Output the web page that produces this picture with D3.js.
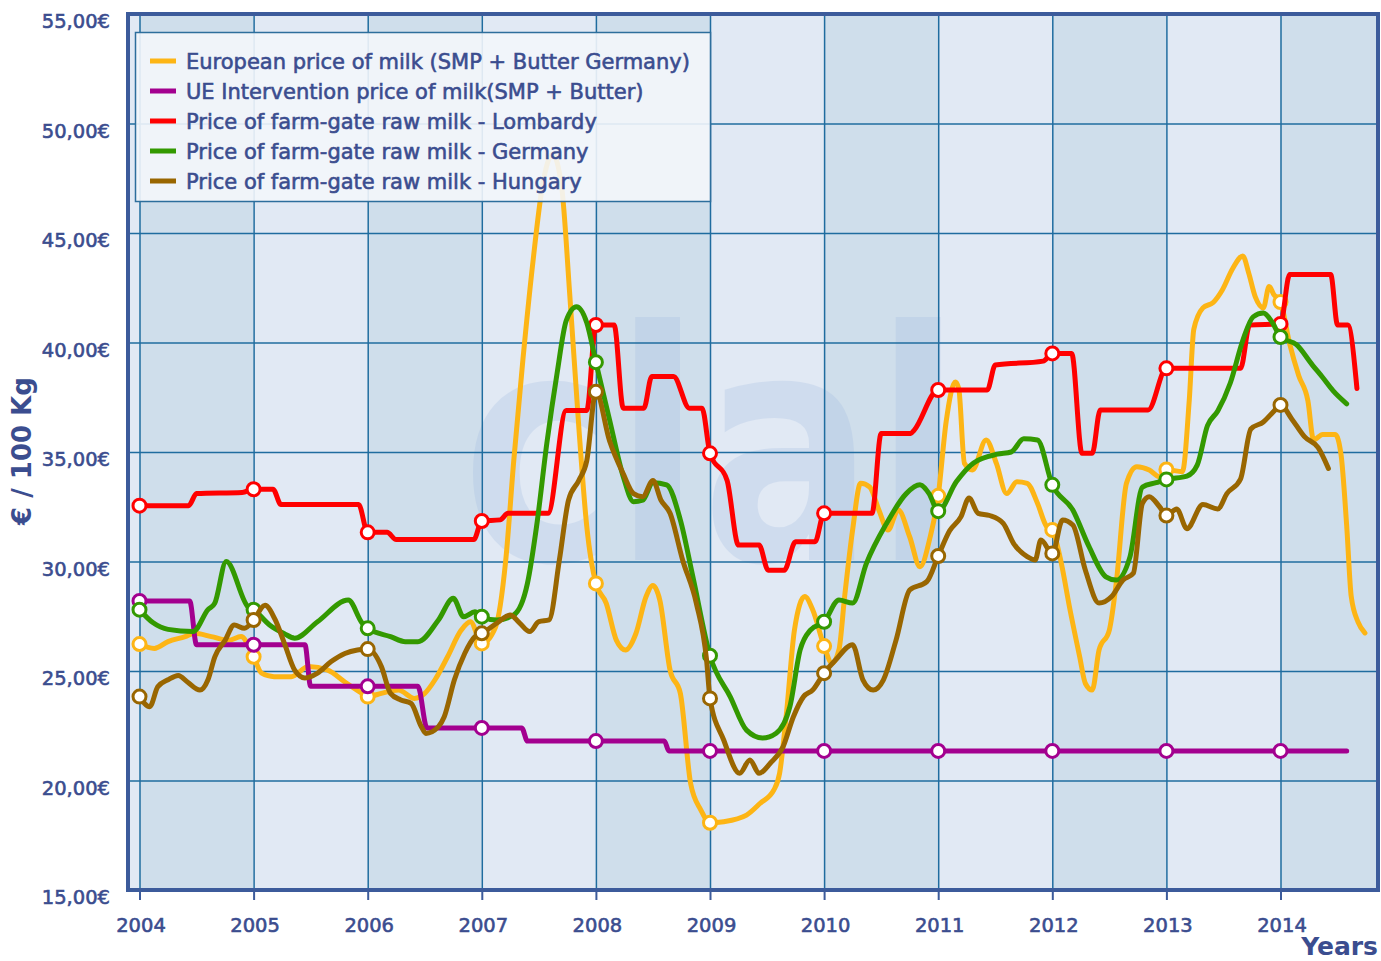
<!DOCTYPE html>
<html>
<head>
<meta charset="utf-8">
<script src="https://cdn.jsdelivr.net/npm/d3@7"></script>
<style>
  body { margin: 0; background: #fff; }
  svg { display: block; font-family: "DejaVu Sans", Verdana, sans-serif; }
  .grid line { stroke: #1f6c9f; stroke-width: 1.5; }
  .grid .domain { display: none; }
</style>
</head>
<body>
<svg id="chart" width="1381" height="961"></svg>
<script>
// ---- data ----
const years = d3.range(2004, 2015);
const yTicks = d3.range(15, 56, 5);

const seriesNames = [
    'European price of milk (SMP + Butter Germany)',
    'UE Intervention price of milk(SMP + Butter)',
    'Price of farm-gate raw milk - Lombardy',
    'Price of farm-gate raw milk - Germany',
    'Price of farm-gate raw milk - Hungary'
];
const seriesColors = ['#fdb515', '#a3008f', '#ff0000', '#339900', '#996600'];

// [year, €/100kg]
const europeanPrice = [
    [2004.0, 26.23], [2004.13, 26.03], [2004.25, 26.34], [2004.4, 26.57], [2004.48, 26.72], [2004.63, 26.57],
    [2004.78, 26.4], [2004.89, 26.57], [2005.0, 25.65], [2005.07, 24.9], [2005.18, 24.74], [2005.33, 24.74],
    [2005.48, 25.2], [2005.65, 25.04], [2005.8, 24.5], [2005.95, 23.98], [2006.0, 23.83], [2006.12, 23.98],
    [2006.27, 24.13], [2006.41, 23.75], [2006.5, 23.98], [2006.59, 24.6], [2006.7, 25.65], [2006.82, 26.87],
    [2006.9, 27.25], [2007.0, 26.26], [2007.12, 27.0], [2007.21, 30.07], [2007.28, 34.6], [2007.36, 39.2],
    [2007.45, 43.77], [2007.53, 47.1], [2007.62, 48.6], [2007.7, 47.1], [2007.77, 42.25], [2007.85, 36.15],
    [2007.92, 31.6], [2008.0, 29.0], [2008.09, 28.1], [2008.18, 26.4], [2008.26, 25.96], [2008.35, 26.7],
    [2008.44, 28.4], [2008.5, 28.9], [2008.56, 28.24], [2008.65, 25.04], [2008.74, 23.98], [2008.83, 19.87],
    [2008.92, 18.65], [2009.0, 18.07], [2009.12, 18.12], [2009.32, 18.42], [2009.44, 18.96], [2009.56, 19.57],
    [2009.61, 20.33], [2009.67, 23.06], [2009.74, 26.87], [2009.83, 28.4], [2009.9, 27.8], [2010.0, 26.14],
    [2010.07, 25.35], [2010.13, 25.96], [2010.18, 28.4], [2010.25, 31.44], [2010.32, 33.57], [2010.4, 33.4],
    [2010.48, 32.35], [2010.56, 31.44], [2010.65, 32.35], [2010.75, 31.13], [2010.84, 29.76], [2010.93, 31.13],
    [2011.0, 33.0], [2011.07, 36.4], [2011.15, 38.2], [2011.18, 37.9], [2011.23, 34.48], [2011.3, 34.18],
    [2011.42, 35.55], [2011.51, 34.48], [2011.6, 33.1], [2011.69, 33.64], [2011.78, 33.57], [2011.87, 32.66],
    [2011.95, 31.6], [2012.0, 31.44], [2012.08, 29.9], [2012.15, 27.94], [2012.24, 25.65], [2012.29, 24.43],
    [2012.35, 24.13], [2012.41, 25.96], [2012.5, 26.87], [2012.56, 29.0], [2012.65, 33.57], [2012.74, 34.33],
    [2012.85, 34.18], [2012.94, 33.87], [2013.0, 34.2], [2013.14, 34.1], [2013.2, 37.34], [2013.24, 40.6],
    [2013.32, 41.58], [2013.41, 41.83], [2013.49, 42.4], [2013.58, 43.37], [2013.67, 43.95], [2013.72, 43.2],
    [2013.78, 42.07], [2013.85, 41.58], [2013.9, 42.56], [2013.94, 42.2], [2014.0, 41.85], [2014.08, 39.95],
    [2014.16, 38.48], [2014.24, 37.34], [2014.29, 35.55], [2014.37, 35.8], [2014.48, 35.8], [2014.53, 34.9],
    [2014.58, 31.64], [2014.62, 28.4], [2014.68, 27.23], [2014.74, 26.74]
];

const interventionPrice = [
    [2004.0, 28.2], [2004.44, 28.2], [2004.5, 26.2], [2005.0, 26.2], [2005.45, 26.2], [2005.5, 24.3],
    [2006.0, 24.3], [2006.44, 24.3], [2006.52, 22.4], [2007.0, 22.4], [2007.35, 22.4], [2007.4, 21.8],
    [2008.0, 21.8], [2008.6, 21.8], [2008.64, 21.35], [2009.0, 21.35], [2010.0, 21.35], [2011.0, 21.35],
    [2012.0, 21.35], [2013.0, 21.35], [2014.0, 21.35], [2014.58, 21.35]
];

const lombardyPrice = [
    [2004.0, 32.55], [2004.43, 32.55], [2004.5, 33.1], [2004.9, 33.15], [2005.0, 33.3], [2005.17, 33.3],
    [2005.24, 32.6], [2005.92, 32.6], [2006.0, 31.33], [2006.17, 31.33], [2006.25, 31.0], [2006.93, 31.0],
    [2007.0, 31.85], [2007.16, 31.9], [2007.23, 32.2], [2007.58, 32.2], [2007.74, 36.9], [2007.92, 36.9],
    [2008.0, 40.8], [2008.16, 40.8], [2008.24, 37.0], [2008.42, 37.0], [2008.49, 38.45], [2008.68, 38.45],
    [2008.82, 37.0], [2008.93, 37.0], [2009.0, 34.94], [2009.15, 33.7], [2009.25, 30.75], [2009.43, 30.75],
    [2009.51, 29.6], [2009.65, 29.6], [2009.75, 30.9], [2009.92, 30.9], [2010.0, 32.2], [2010.42, 32.2],
    [2010.5, 35.85], [2010.76, 35.85], [2010.79, 36.0], [2011.0, 37.83], [2011.43, 37.83], [2011.5, 38.97],
    [2011.92, 39.15], [2012.0, 39.5], [2012.17, 39.5], [2012.26, 34.94], [2012.35, 34.94], [2012.42, 36.92],
    [2012.84, 36.92], [2013.0, 38.82], [2013.65, 38.82], [2013.73, 40.8], [2014.0, 40.85], [2014.08, 43.1],
    [2014.44, 43.1], [2014.5, 40.8], [2014.59, 40.8], [2014.67, 37.9]
];

const germanyPrice = [
    [2004.0, 27.8], [2004.12, 27.2], [2004.25, 26.9], [2004.47, 26.8], [2004.6, 27.8], [2004.66, 28.1],
    [2004.76, 30.0], [2004.95, 27.94], [2005.0, 27.8], [2005.14, 27.1], [2005.27, 26.7], [2005.36, 26.5],
    [2005.56, 27.25], [2005.83, 28.24], [2005.95, 27.2], [2006.0, 26.95], [2006.2, 26.57], [2006.33, 26.34],
    [2006.44, 26.34], [2006.62, 27.33], [2006.75, 28.32], [2006.84, 27.48], [2006.94, 27.7], [2007.0, 27.48],
    [2007.13, 27.33], [2007.28, 27.56], [2007.4, 29.0], [2007.48, 31.6], [2007.57, 35.4], [2007.66, 38.6],
    [2007.74, 41.0], [2007.83, 41.63], [2007.92, 40.9], [2008.0, 39.1], [2008.12, 36.46], [2008.24, 33.87],
    [2008.33, 32.73], [2008.41, 32.8], [2008.5, 33.6], [2008.62, 33.5], [2008.74, 31.9], [2008.85, 29.3],
    [2009.0, 25.7], [2009.18, 23.8], [2009.32, 22.3], [2009.46, 21.94], [2009.58, 22.16], [2009.7, 23.37],
    [2009.79, 25.96], [2009.88, 26.87], [2010.0, 27.25], [2010.13, 28.24], [2010.25, 28.1], [2010.37, 29.9],
    [2010.55, 31.76], [2010.72, 33.1], [2010.84, 33.5], [2010.92, 33.1], [2011.0, 32.3], [2011.16, 33.65],
    [2011.31, 34.5], [2011.52, 34.9], [2011.64, 35.0], [2011.75, 35.6], [2011.87, 35.55], [2012.0, 33.5],
    [2012.18, 32.35], [2012.32, 30.7], [2012.47, 29.3], [2012.56, 29.15], [2012.68, 30.2], [2012.79, 33.4],
    [2012.91, 33.6], [2013.0, 33.75], [2013.18, 33.9], [2013.27, 34.4], [2013.36, 36.2], [2013.45, 36.87],
    [2013.56, 38.15], [2013.67, 40.1], [2013.76, 41.17], [2013.85, 41.35], [2013.93, 40.9], [2014.0, 40.25],
    [2014.14, 39.9], [2014.28, 38.97], [2014.37, 38.4], [2014.46, 37.8], [2014.58, 37.2]
];

const hungaryPrice = [
    [2004.0, 23.83], [2004.09, 23.37], [2004.16, 24.28], [2004.25, 24.6], [2004.34, 24.8], [2004.42, 24.5],
    [2004.53, 24.13], [2004.6, 24.6], [2004.66, 25.65], [2004.75, 26.4], [2004.83, 27.1], [2004.92, 26.95],
    [2005.0, 27.33], [2005.1, 28.0], [2005.19, 27.33], [2005.27, 26.26], [2005.36, 25.04], [2005.45, 24.68],
    [2005.56, 24.9], [2005.68, 25.43], [2005.8, 25.8], [2005.91, 25.96], [2006.0, 26.0], [2006.12, 25.2],
    [2006.2, 23.98], [2006.29, 23.68], [2006.38, 23.52], [2006.47, 22.46], [2006.51, 22.15], [2006.62, 22.46],
    [2006.67, 22.9], [2006.76, 24.6], [2006.85, 25.8], [2006.94, 26.57], [2007.0, 26.72], [2007.13, 27.18],
    [2007.25, 27.56], [2007.33, 27.2], [2007.42, 26.8], [2007.5, 27.25], [2007.59, 27.33], [2007.68, 30.07],
    [2007.76, 32.8], [2007.85, 33.7], [2007.92, 34.6], [2008.0, 37.75], [2008.12, 35.5], [2008.24, 34.0],
    [2008.33, 33.1], [2008.41, 32.96], [2008.5, 33.7], [2008.57, 32.8], [2008.65, 32.2], [2008.76, 30.07],
    [2008.88, 28.1], [2008.97, 25.5], [2009.0, 23.75], [2009.12, 21.85], [2009.26, 20.33], [2009.35, 20.94],
    [2009.43, 20.33], [2009.53, 20.8], [2009.64, 21.54], [2009.73, 22.9], [2009.82, 23.83], [2009.9, 24.13],
    [2010.0, 24.9], [2010.1, 25.5], [2010.25, 26.2], [2010.34, 24.6], [2010.43, 24.13], [2010.52, 24.6],
    [2010.63, 26.4], [2010.75, 28.7], [2010.9, 29.08], [2011.0, 30.25], [2011.1, 31.4], [2011.2, 32.05],
    [2011.27, 32.9], [2011.35, 32.2], [2011.45, 32.1], [2011.57, 31.74], [2011.66, 30.83], [2011.78, 30.22],
    [2011.85, 30.07], [2011.9, 30.98], [2012.0, 30.37], [2012.09, 31.9], [2012.18, 31.67], [2012.29, 29.6],
    [2012.41, 28.1], [2012.52, 28.4], [2012.62, 29.15], [2012.71, 29.46], [2012.79, 32.66], [2012.85, 32.96],
    [2012.94, 32.5], [2013.0, 32.1], [2013.09, 32.4], [2013.18, 31.5], [2013.32, 32.6], [2013.45, 32.4],
    [2013.53, 33.1], [2013.65, 33.77], [2013.74, 36.05], [2013.85, 36.37], [2013.94, 36.85], [2014.0, 37.15],
    [2014.1, 36.5], [2014.21, 35.7], [2014.33, 35.2], [2014.42, 34.25]
];

const allSeries = [europeanPrice, interventionPrice, lombardyPrice, germanyPrice, hungaryPrice];

// ---- layout ----
const plotLeft = 128, plotRight = 1378, plotTop = 14, plotBottom = 890;
const textColor = '#3b4d8f';
const frameColor = '#3c5b9b';
const fontFamily = '"DejaVu Sans", Verdana, sans-serif';

const svg = d3.select('#chart');

const x = d3.scaleLinear().domain([2004, 2014]).range([139.5, 1280.5]);
const y = d3.scaleLinear().domain([15, 55]).range([plotBottom, plotTop]);

svg.append('defs').append('clipPath').attr('id', 'plotClip')
    .append('rect')
    .attr('x', plotLeft).attr('y', plotTop)
    .attr('width', plotRight - plotLeft).attr('height', plotBottom - plotTop);

//alternating year bands
const bandYears = d3.range(2003, 2015);
svg.append('g').selectAll('rect')
    .data(bandYears)
    .join('rect')
    .attr('x', d => Math.max(plotLeft, x(d)))
    .attr('y', plotTop)
    .attr('width', d => Math.min(plotRight, x(d + 1)) - Math.max(plotLeft, x(d)))
    .attr('height', plotBottom - plotTop)
    .attr('fill', d => d % 2 === 0 ? '#cfdeeb' : '#e1e9f4');

//faint logo watermark
svg.append('text')
    .attr('x', 462).attr('y', 560)
    .attr('textLength', 500)
    .attr('lengthAdjust', 'spacingAndGlyphs')
    .style('font-size', '320px')
    .style('font-weight', 'bold')
    .attr('fill', '#9db8e0')
    .attr('opacity', 0.25)
    .text('clal');

//grid
svg.append('g').attr('class', 'grid')
    .attr('transform', `translate(0,${plotTop})`)
    .call(d3.axisBottom(x).tickValues(years).tickSize(plotBottom - plotTop).tickFormat(''));

svg.append('g').attr('class', 'grid')
    .attr('transform', `translate(${plotLeft},0)`)
    .call(d3.axisLeft(y).tickValues(yTicks).tickSize(-(plotRight - plotLeft)).tickFormat(''));

//bottom axis
let xAxis = svg.append('g')
    .attr('transform', `translate(0,${plotBottom})`)
    .attr('font-family', fontFamily)
    .call(d3.axisBottom(x).tickValues(years).tickSize(10).tickPadding(18).tickFormat(d3.format('d')));
xAxis.attr('font-family', fontFamily);
xAxis.select('.domain').remove();
xAxis.selectAll('line').attr('stroke', frameColor).attr('stroke-width', 2);
xAxis.selectAll('text')
    .attr('x', 1)
    .attr('fill', textColor).attr('stroke', textColor).attr('stroke-width', 0.6)
    .style('font-family', fontFamily)
    .style('font-size', '19.5px');

//left axis
let yAxis = svg.append('g')
    .attr('transform', `translate(${plotLeft},0)`)
    .call(d3.axisLeft(y).tickValues(yTicks).tickSize(0).tickPadding(18)
        .tickFormat(d => d.toFixed(2).replace('.', ',') + '€'));
yAxis.attr('font-family', fontFamily);
yAxis.select('.domain').remove();
yAxis.selectAll('text')
    .attr('dy', '0.7em')
    .attr('fill', textColor).attr('stroke', textColor).attr('stroke-width', 0.6)
    .style('font-family', fontFamily)
    .style('font-size', '19.5px');

//plot frame
svg.append('rect')
    .attr('x', plotLeft).attr('y', plotTop)
    .attr('width', plotRight - plotLeft).attr('height', plotBottom - plotTop)
    .attr('fill', 'none')
    .attr('stroke', frameColor)
    .attr('stroke-width', 4);

//series
const line = d3.line()
    .x(d => x(d[0]))
    .y(d => y(d[1]))
    .curve(d3.curveMonotoneX);

const plot = svg.append('g').attr('clip-path', 'url(#plotClip)');

allSeries.forEach((data, i) => {
    let g = plot.append('g');
    g.append('path')
        .datum(data)
        .attr('d', line)
        .attr('fill', 'none')
        .attr('stroke', seriesColors[i])
        .attr('stroke-width', 5)
        .attr('stroke-linejoin', 'round')
        .attr('stroke-linecap', 'round');

    g.selectAll('circle')
        .data(data.filter(d => Number.isInteger(d[0])))
        .join('circle')
        .attr('cx', d => x(d[0]))
        .attr('cy', d => y(d[1]))
        .attr('r', 6.5)
        .attr('fill', '#ffffff')
        .attr('stroke', seriesColors[i])
        .attr('stroke-width', 3);
});

//legend
let legend = svg.append('g');
legend.append('rect')
    .attr('x', 135.5).attr('y', 32.5)
    .attr('width', 575).attr('height', 169)
    .attr('fill', '#f3f6fb').attr('fill-opacity', 0.9)
    .attr('stroke', '#2d6e9c').attr('stroke-width', 1.5);

let items = legend.selectAll('g.item')
    .data(seriesNames)
    .join('g')
    .attr('class', 'item')
    .attr('transform', (d, i) => `translate(0,${61 + i * 30})`);

items.append('line')
    .attr('x1', 150).attr('x2', 176)
    .attr('stroke', (d, i) => seriesColors[i])
    .attr('stroke-width', 5);

items.append('text')
    .attr('x', 186)
    .attr('dy', '0.36em')
    .attr('fill', textColor).attr('stroke', textColor).attr('stroke-width', 0.6)
    .style('font-size', '21px')
    .text(d => d);

//axis titles
svg.append('text')
    .attr('transform', 'translate(31,451) rotate(-90)')
    .attr('text-anchor', 'middle')
    .attr('fill', textColor)
    .style('font-size', '26px')
    .style('font-weight', 'bold')
    .text('€ / 100 Kg');

svg.append('text')
    .attr('x', 1378).attr('y', 955)
    .attr('text-anchor', 'end')
    .attr('fill', textColor)
    .style('font-size', '25px')
    .style('font-weight', 'bold')
    .text('Years');
</script>
</body>
</html>
